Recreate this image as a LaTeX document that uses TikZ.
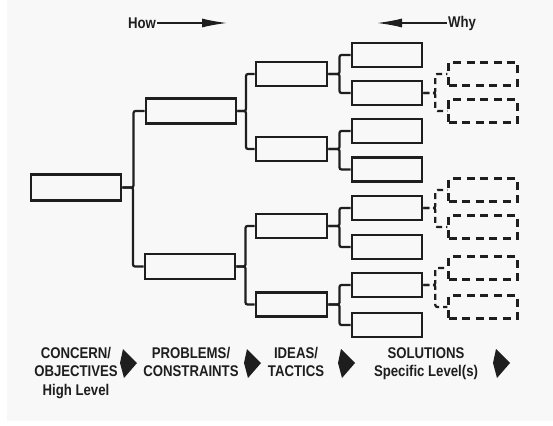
\documentclass[tikz,border=0pt]{standalone}
\usepackage{fontspec}
\setmainfont{Liberation Sans}[FakeStretch=0.85]
\usetikzlibrary{arrows.meta,positioning,calc}
\definecolor{paper}{RGB}{248,248,248}
\definecolor{ink}{RGB}{30,30,30}

\begin{document}
\begin{tikzpicture}
	[ x=1pt, y=-1pt, node distance=24pt,
		every node/.style={font=\fontsize{15.5}{18.5}\selectfont\bfseries,text=ink},
		construct/.style={rectangle,draw=ink,line width=2.6pt,inner sep=0pt,minimum height=24pt},
		guess/.style={construct,dash pattern=on 8pt off 5.5pt,minimum width=69pt,minimum height=23pt},
		branch/.style={draw=ink,line width=2.2pt,rounded corners=2pt,
			to path={-| ($(\tikztostart)!.5!(\tikztotarget)$) |- (\tikztotarget)}},
		guessBranch/.style={branch,dash pattern=on 6pt off 4pt},
		stage/.style={align=center,anchor=north,inner sep=0pt},
		stageArrow/.style={fill=ink},
		hint/.style={draw=ink,line width=1.4pt,-{Latex[length=25pt,width=9pt]}}]

	\fill[white] (0,0) rectangle (553,425);
	\fill[paper] (7,0) rectangle (553,421);
	\useasboundingbox (0,0) rectangle (553,425);

	% how / why
	\node[inner sep=1pt] (how) at (142,23) {How};
	\coordinate (how end) at (227,23);
	\draw[hint] (how) -- (how end);
	\node[inner sep=1pt] (why) at (462,23) {Why};
	\coordinate (why end) at (377,23);
	\draw[hint] (why) -- (why end);

	% levels
	\node[construct,minimum width=90pt,minimum height=26pt] (concern) at (76,187.5) {};

	\node[construct,minimum width=90pt,minimum height=25pt] (problem 1) at (191,111) {};
	\node[construct,minimum width=90pt,minimum height=25pt] (problem 2) at (190,266.5) {};

	\node[construct,minimum width=71pt] (idea 1) at (291.5,74) {};
	\node[construct,minimum width=71pt] (idea 2) at (291.5,149) {};
	\node[construct,minimum width=71pt] (idea 3) at (291.5,226) {};
	\node[construct,minimum width=71pt] (idea 4) at (291.5,304.5) {};

	\node[construct,minimum width=70pt] (solution 1) at (387,55) {};
	\node[construct,minimum width=70pt] (solution 2) at (387,93) {};
	\node[construct,minimum width=70pt] (solution 3) at (387,131) {};
	\node[construct,minimum width=70pt] (solution 4) at (387,169.5) {};
	\node[construct,minimum width=70pt] (solution 5) at (387,208) {};
	\node[construct,minimum width=70pt] (solution 6) at (387,247) {};
	\node[construct,minimum width=70pt] (solution 7) at (387,285) {};
	\node[construct,minimum width=70pt] (solution 8) at (387,325) {};

	\node[guess] (specific 1) [right=of solution 2,yshift=19pt] {};
	\node[guess] (specific 2) [right=of solution 2,yshift=-18pt] {};
	\node[guess] (specific 3) [right=of solution 5,yshift=18pt] {};
	\node[guess] (specific 4) [right=of solution 5,yshift=-19pt] {};
	\node[guess] (specific 5) [right=of solution 7,yshift=17pt] {};
	\node[guess] (specific 6) [right=of solution 7,yshift=-22pt] {};

	% brackets
	\path (concern.east) edge[branch] (problem 1.west) edge[branch] (problem 2.west);
	\path (problem 1.east) edge[branch] (idea 1.west) edge[branch] (idea 2.west);
	\path (problem 2.east) edge[branch] (idea 3.west) edge[branch] (idea 4.west);
	\path (idea 1.east) edge[branch] (solution 1.west) edge[branch] (solution 2.west);
	\path (idea 2.east) edge[branch] (solution 3.west) edge[branch] (solution 4.west);
	\path (idea 3.east) edge[branch] (solution 5.west) edge[branch] (solution 6.west);
	\path (idea 4.east) edge[branch] (solution 7.west) edge[branch] (solution 8.west);
	\path (solution 2.east) edge[guessBranch] (specific 1.west) edge[guessBranch] (specific 2.west);
	\path (solution 5.east) edge[guessBranch] (specific 3.west) edge[guessBranch] (specific 4.west);
	\path (solution 7.east) edge[guessBranch] (specific 5.west) edge[guessBranch] (specific 6.west);

	% stages
	\node[stage] (concern label) at (76,347) {CONCERN/\\OBJECTIVES\\High Level};
	\node[stage] (problem label) at (191,347) {PROBLEMS/\\CONSTRAINTS};
	\node[stage] (idea label) at (296,347) {IDEAS/\\TACTICS};
	\node[stage] (solution label) at (426,347) {SOLUTIONS\\Specific Level(s)};

	\fill[stageArrow] (120,363) -- ++(3,-14) -- ++(14,14) -- ++(-13,15) -- cycle;
	\fill[stageArrow] (244,363) -- ++(3,-14) -- ++(14,14) -- ++(-13,15) -- cycle;
	\fill[stageArrow] (338,363) -- ++(3,-14) -- ++(14,14) -- ++(-13,15) -- cycle;
	\fill[stageArrow] (493,363) -- ++(3,-14) -- ++(14,14) -- ++(-13,15) -- cycle;
\end{tikzpicture}
\end{document}
